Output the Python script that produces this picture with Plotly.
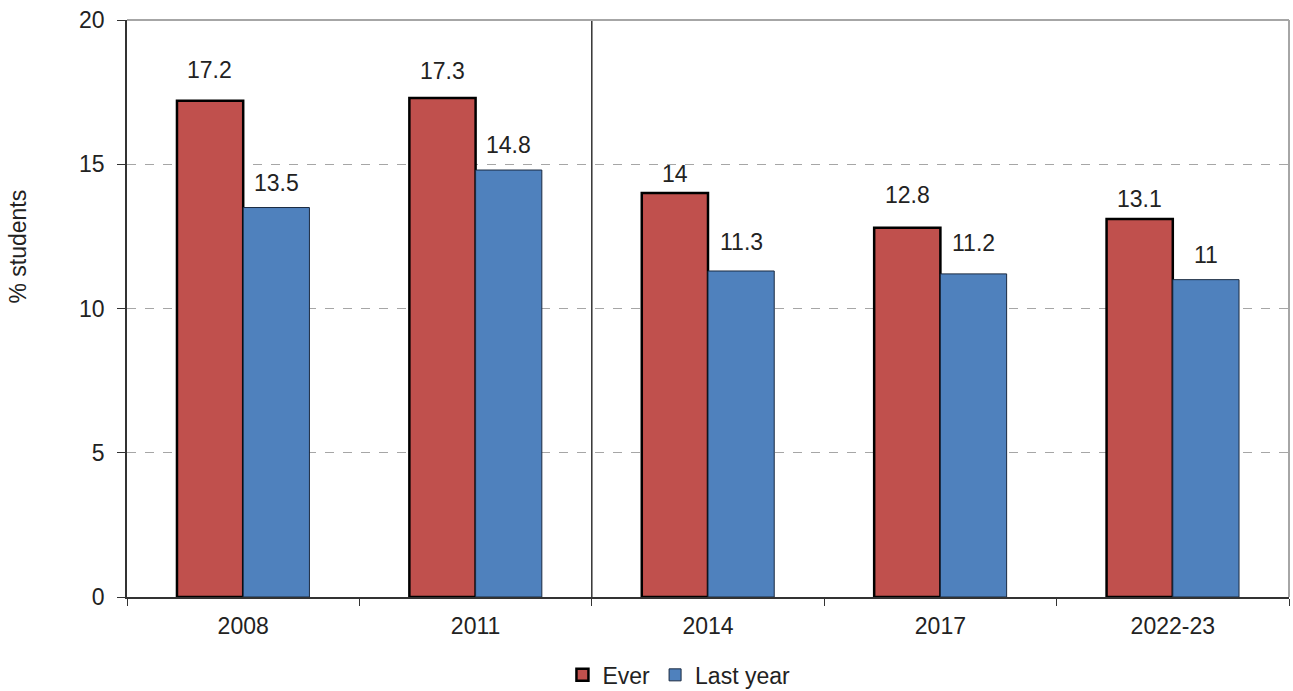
import plotly.graph_objects as go

years = ["2008", "2011", "2014", "2017", "2022-23"]
ever = [17.2, 17.3, 14.0, 12.8, 13.1]
last_year = [13.5, 14.8, 11.3, 11.2, 11.0]
ever_labels = ["17.2", "17.3", "14", "12.8", "13.1"]
last_labels = ["13.5", "14.8", "11.3", "11.2", "11"]

# pixel lift of each value label above its bar
ever_lift = [16, 12, 4, 18, 5]
last_lift = [10, 10, 14, 16, 10]

RED = "#C0504D"
BLUE = "#4F81BD"
FONT = "Liberation Sans, Arial, sans-serif"
TXT = "#222222"

fig = go.Figure()
fig.add_trace(go.Bar(
    x=years, y=ever, name="Ever",
    marker=dict(color=RED, line=dict(color="#000000", width=2.5)),
))
fig.add_trace(go.Bar(
    x=years, y=last_year, name="Last year",
    marker=dict(color=BLUE, line=dict(color="#1a2a40", width=1)),
))

# value labels above each bar
for i, (v, t, s) in enumerate(zip(ever, ever_labels, ever_lift)):
    fig.add_annotation(x=i - 0.143, y=v, text=t, showarrow=False,
                       yanchor="bottom", yshift=s,
                       font=dict(family=FONT, size=23, color=TXT))
for i, (v, t, s) in enumerate(zip(last_year, last_labels, last_lift)):
    fig.add_annotation(x=i + 0.143, y=v, text=t, showarrow=False,
                       yanchor="bottom", yshift=s,
                       font=dict(family=FONT, size=23, color=TXT))

# y-axis title, set a little above the middle of the axis
fig.add_annotation(xref="paper", yref="paper", x=-0.094, y=0.607,
                   text="% students", textangle=-90, showarrow=False,
                   xanchor="center", yanchor="middle",
                   font=dict(family=FONT, size=23, color=TXT))

# divider between 2011 and 2014
fig.add_shape(type="line", xref="x", yref="paper", x0=1.5, x1=1.5, y0=0, y1=1,
              line=dict(color="#333333", width=1.5))
# top and right plot borders
fig.add_shape(type="line", xref="paper", yref="paper", x0=0, x1=1, y0=1, y1=1,
              line=dict(color="#a6a6a6", width=2))
fig.add_shape(type="line", xref="paper", yref="paper", x0=1, x1=1, y0=0, y1=1,
              line=dict(color="#a6a6a6", width=2))

fig.update_layout(
    width=1293, height=691,
    margin=dict(l=127, r=4, t=20, b=94, autoexpand=False),
    paper_bgcolor="white", plot_bgcolor="white",
    barmode="group", bargap=0.43, bargroupgap=0,
    font=dict(family=FONT, size=23, color=TXT),
    showlegend=True,
    legend=dict(orientation="h", x=0.475, xanchor="center", y=-0.135, yanchor="middle",
                font=dict(family=FONT, size=23, color=TXT), itemwidth=30,
                traceorder="normal"),
    xaxis=dict(
        type="category", tickson="boundaries", ticks="outside", ticklen=7,
        tickcolor="#333", showline=True, linecolor="#333", linewidth=1.5,
        showgrid=False, tickfont=dict(size=23), range=[-0.5, 4.5],
        automargin=False, ticklabelstandoff=8,
    ),
    yaxis=dict(
        range=[0, 20], dtick=5, ticks="outside", ticklen=8, tickcolor="#333",
        showline=True, linecolor="#333", linewidth=1.5,
        showgrid=True, gridcolor="#a6a6a6", griddash="dash", gridwidth=1,
        zeroline=False, tickfont=dict(size=23), automargin=False,
        ticklabelstandoff=8,
    ),
)

fig.write_html("out.html")
